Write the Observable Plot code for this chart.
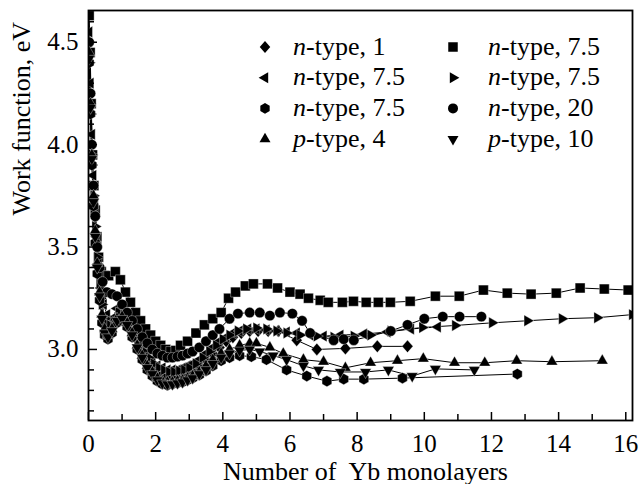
<!DOCTYPE html>
<html><head><meta charset="utf-8">
<script src="https://cdn.jsdelivr.net/npm/d3@7"></script>
<script src="https://cdn.jsdelivr.net/npm/@observablehq/plot@0.6"></script>
<style>
body{margin:0;background:#fff;}
#wrap{position:relative;width:642px;height:484px;font-family:"Liberation Serif","Times New Roman",serif;}
#legend{position:absolute;left:0;top:0;pointer-events:none;}
</style></head><body><div id="wrap"></div>
<script>
// ---- data: [monolayers, work function eV] ----
const diamondN1 = [[0.02,4.5],[0.07,4.2],[0.12,3.9],[0.18,3.7],[0.24,3.52],[0.3,3.38],[0.38,3.25],[0.46,3.15],[0.56,3.1],[0.7,3.11],[0.85,3.15],[1.0,3.16],[1.15,3.14],[1.3,3.1],[1.45,3.05],[1.6,3.0],[1.75,2.96],[1.9,2.93],[2.05,2.9],[2.2,2.88],[2.35,2.87],[2.5,2.87],[2.65,2.87],[2.8,2.88],[2.95,2.89],[3.1,2.9],[3.3,2.92],[3.5,2.95],[3.7,2.98],[3.9,3.01],[4.1,3.04],[4.3,3.06],[4.55,3.08],[4.8,3.09],[5.05,3.09],[5.35,3.09],[5.65,3.09],[6.2,3.045],[6.8,3.0],[7.65,3.005],[8.6,3.015],[9.5,3.015]];
const squareN75 = [[0.02,4.63],[0.05,4.45],[0.08,4.2],[0.12,3.95],[0.16,3.8],[0.2,3.68],[0.25,3.55],[0.3,3.45],[0.38,3.38],[0.46,3.36],[0.6,3.36],[0.8,3.38],[0.95,3.34],[1.1,3.28],[1.25,3.23],[1.4,3.18],[1.55,3.14],[1.7,3.1],[1.85,3.07],[2.0,3.04],[2.15,3.02],[2.3,3.0],[2.45,2.99],[2.6,2.995],[2.74,3.02],[2.95,3.04],[3.2,3.08],[3.45,3.12],[3.7,3.15],[3.95,3.18],[4.17,3.25],[4.38,3.28],[4.67,3.31],[4.91,3.32],[5.33,3.32],[5.63,3.30],[6.0,3.28],[6.3,3.27],[6.55,3.25],[6.9,3.24],[7.14,3.23],[7.56,3.23],[7.89,3.235],[8.27,3.23],[8.63,3.23],[8.99,3.23],[9.58,3.235],[10.33,3.26],[11.04,3.26],[11.76,3.29],[12.47,3.275],[13.18,3.27],[13.93,3.275],[14.64,3.30],[15.36,3.295],[16.07,3.29]];
const leftN75 = [[0.02,4.55],[0.06,4.3],[0.1,4.05],[0.14,3.85],[0.19,3.7],[0.24,3.55],[0.3,3.42],[0.37,3.3],[0.45,3.22],[0.55,3.17],[0.7,3.15],[0.85,3.2],[1.0,3.2],[1.15,3.17],[1.3,3.12],[1.45,3.07],[1.6,3.02],[1.75,2.98],[1.9,2.95],[2.05,2.92],[2.2,2.91],[2.35,2.9],[2.5,2.9],[2.65,2.9],[2.8,2.91],[2.95,2.92],[3.1,2.93],[3.3,2.95],[3.5,2.98],[3.7,3.01],[3.9,3.04],[4.1,3.06],[4.3,3.08],[4.5,3.09],[4.75,3.1],[5.0,3.1],[5.3,3.095],[5.6,3.09],[5.9,3.085],[6.2,3.08],[6.6,3.07],[7.0,3.065],[7.5,3.07],[8.2,3.075],[8.9,3.085],[9.6,3.1],[10.4,3.11]];
const rightN75 = [[0.02,4.4],[0.06,4.15],[0.1,3.95],[0.15,3.75],[0.2,3.6],[0.26,3.45],[0.33,3.32],[0.4,3.22],[0.5,3.15],[0.62,3.12],[0.75,3.14],[0.9,3.18],[1.05,3.17],[1.2,3.13],[1.35,3.08],[1.5,3.03],[1.65,2.99],[1.8,2.96],[1.95,2.93],[2.1,2.91],[2.25,2.9],[2.4,2.89],[2.55,2.89],[2.7,2.895],[2.85,2.9],[3.0,2.91],[3.2,2.93],[3.4,2.96],[3.6,2.99],[3.8,3.02],[4.0,3.05],[4.2,3.07],[4.45,3.09],[4.7,3.1],[5.0,3.105],[5.3,3.1],[5.6,3.09],[5.9,3.08],[6.3,3.07],[6.8,3.065],[7.3,3.06],[7.9,3.065],[8.4,3.07],[9.0,3.09],[9.94,3.107],[10.92,3.117],[12.02,3.13],[13.07,3.14],[14.1,3.15],[15.15,3.155],[16.19,3.17]];
const hexN75 = [[0.02,4.4],[0.06,4.15],[0.1,3.9],[0.15,3.7],[0.2,3.52],[0.26,3.37],[0.33,3.24],[0.4,3.13],[0.48,3.07],[0.58,3.05],[0.7,3.08],[0.85,3.13],[1.0,3.14],[1.15,3.11],[1.3,3.06],[1.45,3.0],[1.6,2.95],[1.75,2.9],[1.9,2.87],[2.05,2.845],[2.2,2.83],[2.35,2.825],[2.5,2.83],[2.65,2.835],[2.8,2.84],[2.95,2.85],[3.1,2.86],[3.3,2.875],[3.5,2.895],[3.7,2.92],[3.95,2.945],[4.2,2.96],[4.5,2.97],[4.85,2.965],[5.3,2.95],[5.9,2.9],[6.5,2.87],[7.1,2.845],[7.6,2.855],[8.2,2.855],[9.35,2.86],[12.77,2.88]];
const circleN20 = [[0.02,4.5],[0.06,4.25],[0.1,4.0],[0.15,3.8],[0.2,3.65],[0.26,3.5],[0.33,3.4],[0.42,3.33],[0.55,3.28],[0.7,3.27],[0.85,3.26],[1.0,3.22],[1.15,3.18],[1.3,3.14],[1.45,3.1],[1.6,3.06],[1.75,3.03],[1.9,3.0],[2.05,2.98],[2.2,2.97],[2.35,2.96],[2.5,2.96],[2.65,2.965],[2.8,2.97],[2.95,2.98],[3.1,2.99],[3.3,3.01],[3.5,3.04],[3.7,3.07],[3.9,3.1],[4.2,3.15],[4.45,3.175],[4.8,3.18],[5.1,3.18],[5.4,3.165],[5.7,3.18],[6.07,3.175],[6.36,3.14],[6.6,3.08],[7.3,3.045],[7.6,3.05],[7.9,3.045],[9.0,3.09],[9.5,3.12],[10.0,3.15],[10.55,3.16],[11.05,3.16],[11.7,3.16]];
const upP4 = [[0.02,4.45],[0.06,4.2],[0.1,3.95],[0.15,3.75],[0.2,3.58],[0.26,3.42],[0.33,3.28],[0.4,3.17],[0.48,3.1],[0.58,3.07],[0.7,3.1],[0.85,3.15],[1.0,3.16],[1.15,3.13],[1.3,3.08],[1.45,3.02],[1.6,2.97],[1.75,2.92],[1.9,2.89],[2.05,2.86],[2.2,2.845],[2.35,2.84],[2.5,2.84],[2.65,2.845],[2.8,2.85],[2.95,2.86],[3.1,2.87],[3.3,2.89],[3.5,2.92],[3.7,2.95],[3.95,2.98],[4.2,3.0],[4.5,3.02],[4.8,3.03],[5.0,3.03],[5.4,3.01],[5.8,2.98],[6.4,2.95],[7.0,2.94],[7.65,2.91],[8.4,2.935],[9.2,2.945],[9.97,2.955],[10.9,2.935],[11.8,2.935],[12.75,2.945],[13.8,2.94],[15.3,2.945]];
const downP10 = [[0.02,4.42],[0.06,4.18],[0.1,3.93],[0.15,3.72],[0.2,3.55],[0.26,3.4],[0.33,3.26],[0.4,3.15],[0.48,3.08],[0.58,3.06],[0.7,3.09],[0.85,3.14],[1.0,3.15],[1.15,3.12],[1.3,3.07],[1.45,3.01],[1.6,2.96],[1.75,2.91],[1.9,2.88],[2.05,2.85],[2.2,2.835],[2.35,2.83],[2.5,2.83],[2.65,2.835],[2.8,2.84],[2.95,2.85],[3.1,2.86],[3.3,2.88],[3.5,2.9],[3.7,2.93],[3.95,2.96],[4.2,2.98],[4.5,2.995],[4.8,3.0],[5.1,2.99],[5.5,2.97],[5.9,2.95],[6.4,2.92],[6.85,2.9],[7.5,2.89],[8.25,2.89],[8.93,2.9],[9.64,2.87],[10.33,2.905],[11.49,2.9]];

// legend slots: row-major (col1,col2), rows top to bottom
const legendTypes  = ["n","n","n","n","n","n","p","p"];
const legendValues = ["1","7.5","7.5","7.5","7.5","20","4","10"];
const xTicks = [0,2,4,6,8,10,12,14,16];
const xMinor = [1,3,5,7,9,11,13,15];
const yTicks = [3.0,3.5,4.0,4.5];
const yMinor = [2.7,2.8,2.9,3.1,3.2,3.3,3.4,3.6,3.7,3.8,3.9,4.1,4.2,4.3,4.4,4.6];
const xLabel = "Number of\u00a0 Yb monolayers";
const yLabel = "Work function, eV";

// ---- symbols ----
function poly(pts){ return {draw(c,size){ const r=Math.sqrt(size/Math.PI); c.moveTo(pts[0][0]*r,pts[0][1]*r); for(let i=1;i<pts.length;i++) c.lineTo(pts[i][0]*r,pts[i][1]*r); c.closePath(); }}; }
const A = 2.2, S3 = Math.sqrt(3);
const symCircle = {draw(c,size){const r=Math.sqrt(size/Math.PI); c.moveTo(r,0); c.arc(0,0,r,0,2*Math.PI);}};
const symSquare = poly([[-0.95,-0.95],[0.95,-0.95],[0.95,0.95],[-0.95,0.95]]);
const symDiamond = poly([[0,-1.2],[1.05,0],[0,1.2],[-1.05,0]]);
const symUp = poly([[0,-A/S3],[A/2,A/(2*S3)],[-A/2,A/(2*S3)]]);
const symDown = poly([[0,A/S3],[A/2,-A/(2*S3)],[-A/2,-A/(2*S3)]]);
const symLeft = poly([[-A/S3,0],[A/(2*S3),-A/2],[A/(2*S3),A/2]]);
const symRight = poly([[A/S3,0],[-A/(2*S3),-A/2],[-A/(2*S3),A/2]]);
const symHex = poly(d3.range(6).map(k=>[1.08*Math.cos(Math.PI/6+k*Math.PI/3),1.08*Math.sin(Math.PI/6+k*Math.PI/3)]));

// slot = legend position (row-major)
const series = [
  {data: diamondN1, sym: symDiamond, slot: 0},
  {data: squareN75, sym: symSquare,  slot: 1},
  {data: leftN75,   sym: symLeft,    slot: 2},
  {data: rightN75,  sym: symRight,   slot: 3},
  {data: hexN75,    sym: symHex,     slot: 4},
  {data: circleN20, sym: symCircle,  slot: 5},
  {data: upP4,      sym: symUp,      slot: 6},
  {data: downP10,   sym: symDown,    slot: 7}
];

const X = d => d[0], Y = d => d[1];
const W = 642, H = 484, ML = 88, MR = 10, MT = 10, MB = 64;
const FW = W - ML - MR, FH = H - MT - MB;

const plot = Plot.plot({
  width: W, height: H,
  marginLeft: ML, marginRight: MR, marginTop: MT, marginBottom: MB,
  style: {fontFamily: "'Liberation Serif', 'Times New Roman', serif", background: "white", color: "black"},
  x: {domain: [0, 16.2]},
  y: {domain: [2.653, 4.655]},
  marks: [
    ...series.map(s => Plot.line(s.data, {x: X, y: Y, stroke: "black", strokeWidth: 1, clip: true})),
    ...series.map(s => Plot.dot(s.data, {x: X, y: Y, symbol: s.sym, r: 5.2, fill: "black", stroke: "white", strokeWidth: 0.35, clip: true})),
    Plot.axisX(xTicks, {tickSize: 0, tickPadding: 14, fontSize: 25, label: null}),
    Plot.axisY(yTicks, {tickSize: 0, tickPadding: 10, fontSize: 25, tickFormat: d3.format(".1f"), label: null}),
    Plot.gridX(xTicks, {stroke: "black", strokeOpacity: 1, strokeWidth: 1.5, insetTop: FH - 8}),
    Plot.gridX(xMinor, {stroke: "black", strokeOpacity: 1, strokeWidth: 1.5, insetTop: FH - 6}),
    Plot.gridY(yTicks, {stroke: "black", strokeOpacity: 1, strokeWidth: 1.5, insetRight: FW - 9}),
    Plot.gridY(yMinor, {stroke: "black", strokeOpacity: 1, strokeWidth: 1.5, insetRight: FW - 6}),
    Plot.frame({stroke: "black", strokeWidth: 1.8}),
    Plot.text([xLabel], {text: d => d, frameAnchor: "bottom", dy: 59, dx: 5, fontSize: 26}),
    Plot.text([yLabel], {text: d => d, frameAnchor: "left", dx: -67, rotate: -90, fontSize: 26})
  ]
});
document.getElementById("wrap").appendChild(plot);

// ---- legend overlay ----
const lg = d3.select("#wrap").append("svg").attr("id", "legend").attr("width", W).attr("height", H);
series.forEach(s => {
  const slot = s.slot, col = slot % 2, row = Math.floor(slot / 2);
  const my = 47 + row * 30.7;
  const mx = col ? 453 : 265;
  lg.append("path").attr("transform", `translate(${mx},${my})`)
    .attr("d", d3.symbol(s.sym, Math.PI * 5 * 5)()).attr("fill", "black");
  const t = lg.append("text").attr("x", col ? 488 : 293).attr("y", my + 7.5)
    .attr("font-size", 26).attr("font-family", "'Liberation Serif','Times New Roman',serif").attr("fill", "black");
  t.append("tspan").attr("font-style", "italic").text(legendTypes[slot]);
  t.append("tspan").text("-type, " + legendValues[slot]);
});
</script></body></html>
